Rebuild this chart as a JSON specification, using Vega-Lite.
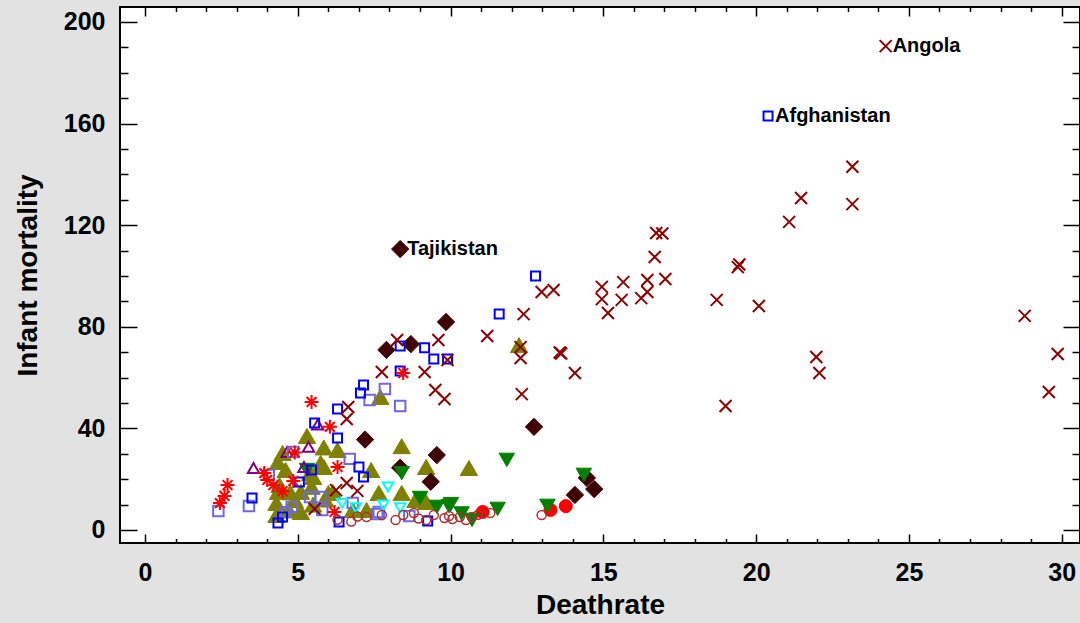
{
  "$schema": "https://vega.github.io/schema/vega-lite/v6.json",
  "width": 960,
  "height": 536,
  "autosize": {"type": "none"},
  "padding": {"left": 120, "top": 7, "right": 0, "bottom": 80},
  "background": "#e2e2e2",
  "config": {
    "view": {"fill": "white", "stroke": "black", "strokeWidth": 2},
    "font": "Liberation Sans"
  },
  "data": {
    "values": [
      {"region": "Latin America", "deathrate": 7.7, "infant": 52.4},
      {"region": "Latin America", "deathrate": 12.24, "infant": 72.8},
      {"region": "Latin America", "deathrate": 8.4, "infant": 33.0},
      {"region": "Latin America", "deathrate": 9.2, "infant": 24.8},
      {"region": "Latin America", "deathrate": 10.6, "infant": 24.4},
      {"region": "Latin America", "deathrate": 5.3, "infant": 37.0},
      {"region": "Latin America", "deathrate": 5.85, "infant": 32.5},
      {"region": "Latin America", "deathrate": 6.3, "infant": 31.5},
      {"region": "Latin America", "deathrate": 4.5, "infant": 30.3},
      {"region": "Latin America", "deathrate": 4.35, "infant": 26.8},
      {"region": "Latin America", "deathrate": 4.6, "infant": 23.6},
      {"region": "Latin America", "deathrate": 5.4, "infant": 22.4},
      {"region": "Latin America", "deathrate": 5.85, "infant": 24.8},
      {"region": "Latin America", "deathrate": 5.75, "infant": 26.4},
      {"region": "Latin America", "deathrate": 5.5, "infant": 20.9},
      {"region": "Latin America", "deathrate": 7.4, "infant": 23.6},
      {"region": "Latin America", "deathrate": 7.65, "infant": 14.6},
      {"region": "Latin America", "deathrate": 8.4, "infant": 14.6},
      {"region": "Latin America", "deathrate": 8.85, "infant": 11.8},
      {"region": "Latin America", "deathrate": 9.2, "infant": 11.0},
      {"region": "Latin America", "deathrate": 7.25, "infant": 7.9},
      {"region": "Latin America", "deathrate": 6.0, "infant": 14.6},
      {"region": "Latin America", "deathrate": 4.4, "infant": 17.7},
      {"region": "Latin America", "deathrate": 4.35, "infant": 15.0},
      {"region": "Latin America", "deathrate": 4.75, "infant": 14.8},
      {"region": "Latin America", "deathrate": 5.1, "infant": 15.0},
      {"region": "Latin America", "deathrate": 5.45, "infant": 17.0},
      {"region": "Latin America", "deathrate": 6.15, "infant": 15.0},
      {"region": "Latin America", "deathrate": 4.3, "infant": 10.6},
      {"region": "Latin America", "deathrate": 4.9, "infant": 11.8},
      {"region": "Latin America", "deathrate": 4.3, "infant": 5.9},
      {"region": "Latin America", "deathrate": 5.1, "infant": 7.1},
      {"region": "Latin America", "deathrate": 4.7, "infant": 7.9},
      {"region": "Latin America", "deathrate": 6.8, "infant": 7.9},
      {"region": "Latin America", "deathrate": 5.5, "infant": 10.0},
      {"region": "Latin America", "deathrate": 5.9, "infant": 12.0},
      {"region": "C.W. of Ind. States", "deathrate": 8.35, "infant": 110.6, "label": "Tajikistan"},
      {"region": "C.W. of Ind. States", "deathrate": 9.85, "infant": 81.9},
      {"region": "C.W. of Ind. States", "deathrate": 7.9, "infant": 70.9},
      {"region": "C.W. of Ind. States", "deathrate": 8.7, "infant": 73.2},
      {"region": "C.W. of Ind. States", "deathrate": 12.73, "infant": 40.6},
      {"region": "C.W. of Ind. States", "deathrate": 7.2, "infant": 35.6},
      {"region": "C.W. of Ind. States", "deathrate": 9.55, "infant": 29.5},
      {"region": "C.W. of Ind. States", "deathrate": 9.35, "infant": 19.0},
      {"region": "C.W. of Ind. States", "deathrate": 8.35, "infant": 24.5},
      {"region": "C.W. of Ind. States", "deathrate": 14.07, "infant": 13.8},
      {"region": "C.W. of Ind. States", "deathrate": 14.7, "infant": 16.1},
      {"region": "C.W. of Ind. States", "deathrate": 14.46, "infant": 20.5},
      {"region": "Baltics", "deathrate": 11.05, "infant": 7.1},
      {"region": "Baltics", "deathrate": 13.27, "infant": 7.9},
      {"region": "Baltics", "deathrate": 13.77, "infant": 9.4},
      {"region": "Eastern Europe", "deathrate": 11.84, "infant": 27.6},
      {"region": "Eastern Europe", "deathrate": 14.36, "infant": 21.7},
      {"region": "Eastern Europe", "deathrate": 13.17, "infant": 9.5},
      {"region": "Eastern Europe", "deathrate": 11.54, "infant": 8.3},
      {"region": "Eastern Europe", "deathrate": 10.01, "infant": 10.2},
      {"region": "Eastern Europe", "deathrate": 10.7, "infant": 4.0},
      {"region": "Eastern Europe", "deathrate": 8.4, "infant": 22.4},
      {"region": "Eastern Europe", "deathrate": 9.0, "infant": 12.6},
      {"region": "Eastern Europe", "deathrate": 9.55, "infant": 9.1},
      {"region": "Eastern Europe", "deathrate": 9.95, "infant": 9.4},
      {"region": "Eastern Europe", "deathrate": 10.36, "infant": 6.5},
      {"region": "Eastern Europe", "deathrate": 5.3, "infant": 23.6},
      {"region": "Northern Africa", "deathrate": 3.55, "infant": 24.4},
      {"region": "Northern Africa", "deathrate": 4.65, "infant": 30.7},
      {"region": "Northern Africa", "deathrate": 5.35, "infant": 32.7},
      {"region": "Northern Africa", "deathrate": 5.2, "infant": 24.8},
      {"region": "Northern Africa", "deathrate": 5.65, "infant": 41.5},
      {"region": "Oceania", "deathrate": 7.85, "infant": 55.5},
      {"region": "Oceania", "deathrate": 7.35, "infant": 51.2},
      {"region": "Oceania", "deathrate": 8.35, "infant": 48.8},
      {"region": "Oceania", "deathrate": 6.7, "infant": 28.0},
      {"region": "Oceania", "deathrate": 5.4, "infant": 13.0},
      {"region": "Oceania", "deathrate": 5.75, "infant": 13.0},
      {"region": "Oceania", "deathrate": 6.8, "infant": 10.6},
      {"region": "Oceania", "deathrate": 5.8, "infant": 7.9},
      {"region": "Oceania", "deathrate": 7.65, "infant": 7.1},
      {"region": "Oceania", "deathrate": 2.4, "infant": 7.5},
      {"region": "Oceania", "deathrate": 3.4, "infant": 9.4},
      {"region": "Oceania", "deathrate": 4.05, "infant": 21.7},
      {"region": "Oceania", "deathrate": 4.85, "infant": 30.7},
      {"region": "Oceania", "deathrate": 4.8, "infant": 9.1},
      {"region": "Oceania", "deathrate": 4.6, "infant": 7.0},
      {"region": "Oceania", "deathrate": 7.6, "infant": 6.3},
      {"region": "Oceania", "deathrate": 8.65, "infant": 5.5},
      {"region": "Asia", "deathrate": 20.39, "infant": 163.0, "label": "Afghanistan"},
      {"region": "Asia", "deathrate": 12.78, "infant": 100.0},
      {"region": "Asia", "deathrate": 11.59, "infant": 85.0},
      {"region": "Asia", "deathrate": 8.35, "infant": 72.4},
      {"region": "Asia", "deathrate": 9.15, "infant": 71.7},
      {"region": "Asia", "deathrate": 9.45, "infant": 67.3},
      {"region": "Asia", "deathrate": 9.9, "infant": 67.3},
      {"region": "Asia", "deathrate": 8.35, "infant": 62.6},
      {"region": "Asia", "deathrate": 7.15, "infant": 57.1},
      {"region": "Asia", "deathrate": 7.05, "infant": 53.9},
      {"region": "Asia", "deathrate": 6.3, "infant": 47.6},
      {"region": "Asia", "deathrate": 5.55, "infant": 42.1},
      {"region": "Asia", "deathrate": 6.3, "infant": 36.2},
      {"region": "Asia", "deathrate": 7.0, "infant": 24.8},
      {"region": "Asia", "deathrate": 7.15, "infant": 20.9},
      {"region": "Asia", "deathrate": 6.35, "infant": 3.1},
      {"region": "Asia", "deathrate": 9.25, "infant": 3.5},
      {"region": "Asia", "deathrate": 3.5, "infant": 12.6},
      {"region": "Asia", "deathrate": 4.35, "infant": 2.8},
      {"region": "Asia", "deathrate": 4.5, "infant": 5.1},
      {"region": "Asia", "deathrate": 5.05, "infant": 18.9},
      {"region": "Asia", "deathrate": 5.45, "infant": 23.6},
      {"region": "Near East", "deathrate": 5.45, "infant": 50.4},
      {"region": "Near East", "deathrate": 6.05, "infant": 40.6},
      {"region": "Near East", "deathrate": 8.45, "infant": 61.8},
      {"region": "Near East", "deathrate": 6.3, "infant": 24.8},
      {"region": "Near East", "deathrate": 6.2, "infant": 7.1},
      {"region": "Near East", "deathrate": 2.7, "infant": 17.7},
      {"region": "Near East", "deathrate": 2.6, "infant": 13.4},
      {"region": "Near East", "deathrate": 2.45, "infant": 10.6},
      {"region": "Near East", "deathrate": 3.9, "infant": 22.4},
      {"region": "Near East", "deathrate": 4.0, "infant": 19.7},
      {"region": "Near East", "deathrate": 4.2, "infant": 17.7},
      {"region": "Near East", "deathrate": 4.5, "infant": 15.3},
      {"region": "Near East", "deathrate": 4.85, "infant": 19.3},
      {"region": "Near East", "deathrate": 4.9, "infant": 30.5},
      {"region": "Sub-Saharan Africa", "deathrate": 24.24, "infant": 190.5, "label": "Angola"},
      {"region": "Sub-Saharan Africa", "deathrate": 23.15, "infant": 143.0},
      {"region": "Sub-Saharan Africa", "deathrate": 23.15, "infant": 128.3},
      {"region": "Sub-Saharan Africa", "deathrate": 21.47, "infant": 130.7},
      {"region": "Sub-Saharan Africa", "deathrate": 21.08, "infant": 121.3},
      {"region": "Sub-Saharan Africa", "deathrate": 16.73, "infant": 116.9},
      {"region": "Sub-Saharan Africa", "deathrate": 16.93, "infant": 116.7},
      {"region": "Sub-Saharan Africa", "deathrate": 16.68, "infant": 107.5},
      {"region": "Sub-Saharan Africa", "deathrate": 16.44, "infant": 98.4},
      {"region": "Sub-Saharan Africa", "deathrate": 17.03, "infant": 98.8},
      {"region": "Sub-Saharan Africa", "deathrate": 16.44, "infant": 93.7},
      {"region": "Sub-Saharan Africa", "deathrate": 16.24, "infant": 91.3},
      {"region": "Sub-Saharan Africa", "deathrate": 15.65, "infant": 97.6},
      {"region": "Sub-Saharan Africa", "deathrate": 15.6, "infant": 90.6},
      {"region": "Sub-Saharan Africa", "deathrate": 14.95, "infant": 95.7},
      {"region": "Sub-Saharan Africa", "deathrate": 14.95, "infant": 90.9},
      {"region": "Sub-Saharan Africa", "deathrate": 15.15, "infant": 85.4},
      {"region": "Sub-Saharan Africa", "deathrate": 13.37, "infant": 94.5},
      {"region": "Sub-Saharan Africa", "deathrate": 12.98, "infant": 93.7},
      {"region": "Sub-Saharan Africa", "deathrate": 12.39, "infant": 85.0},
      {"region": "Sub-Saharan Africa", "deathrate": 11.2, "infant": 76.4},
      {"region": "Sub-Saharan Africa", "deathrate": 12.29, "infant": 72.0},
      {"region": "Sub-Saharan Africa", "deathrate": 12.29, "infant": 67.7},
      {"region": "Sub-Saharan Africa", "deathrate": 13.57, "infant": 69.9},
      {"region": "Sub-Saharan Africa", "deathrate": 13.62, "infant": 69.5},
      {"region": "Sub-Saharan Africa", "deathrate": 14.07, "infant": 61.8},
      {"region": "Sub-Saharan Africa", "deathrate": 19.4, "infant": 103.5},
      {"region": "Sub-Saharan Africa", "deathrate": 19.45, "infant": 104.5},
      {"region": "Sub-Saharan Africa", "deathrate": 18.71, "infant": 90.6},
      {"region": "Sub-Saharan Africa", "deathrate": 20.09, "infant": 88.2},
      {"region": "Sub-Saharan Africa", "deathrate": 28.79, "infant": 84.3},
      {"region": "Sub-Saharan Africa", "deathrate": 29.87, "infant": 69.3},
      {"region": "Sub-Saharan Africa", "deathrate": 21.97, "infant": 68.1},
      {"region": "Sub-Saharan Africa", "deathrate": 22.07, "infant": 61.8},
      {"region": "Sub-Saharan Africa", "deathrate": 29.58, "infant": 54.3},
      {"region": "Sub-Saharan Africa", "deathrate": 19.0, "infant": 48.8},
      {"region": "Sub-Saharan Africa", "deathrate": 8.25, "infant": 74.8},
      {"region": "Sub-Saharan Africa", "deathrate": 9.6, "infant": 74.8},
      {"region": "Sub-Saharan Africa", "deathrate": 7.75, "infant": 62.2},
      {"region": "Sub-Saharan Africa", "deathrate": 9.15, "infant": 62.2},
      {"region": "Sub-Saharan Africa", "deathrate": 9.9, "infant": 66.9},
      {"region": "Sub-Saharan Africa", "deathrate": 9.5, "infant": 55.1},
      {"region": "Sub-Saharan Africa", "deathrate": 9.8, "infant": 51.6},
      {"region": "Sub-Saharan Africa", "deathrate": 6.65, "infant": 48.4},
      {"region": "Sub-Saharan Africa", "deathrate": 6.6, "infant": 43.7},
      {"region": "Sub-Saharan Africa", "deathrate": 6.6, "infant": 18.5},
      {"region": "Sub-Saharan Africa", "deathrate": 6.95, "infant": 15.4},
      {"region": "Sub-Saharan Africa", "deathrate": 5.55, "infant": 8.3},
      {"region": "Sub-Saharan Africa", "deathrate": 6.25, "infant": 15.7},
      {"region": "Sub-Saharan Africa", "deathrate": 12.33, "infant": 53.5},
      {"region": "Northern America", "deathrate": 7.95, "infant": 16.9},
      {"region": "Northern America", "deathrate": 7.8, "infant": 9.8},
      {"region": "Northern America", "deathrate": 8.35, "infant": 8.7},
      {"region": "Northern America", "deathrate": 6.9, "infant": 8.7},
      {"region": "Northern America", "deathrate": 6.45, "infant": 10.5},
      {"region": "Western Europe", "deathrate": 6.3, "infant": 4.0},
      {"region": "Western Europe", "deathrate": 6.75, "infant": 3.3},
      {"region": "Western Europe", "deathrate": 7.25, "infant": 5.1},
      {"region": "Western Europe", "deathrate": 7.75, "infant": 5.9},
      {"region": "Western Europe", "deathrate": 8.2, "infant": 3.9},
      {"region": "Western Europe", "deathrate": 8.45, "infant": 5.9},
      {"region": "Western Europe", "deathrate": 8.8, "infant": 6.7},
      {"region": "Western Europe", "deathrate": 9.2, "infant": 3.9},
      {"region": "Western Europe", "deathrate": 9.45, "infant": 5.9},
      {"region": "Western Europe", "deathrate": 9.8, "infant": 4.7},
      {"region": "Western Europe", "deathrate": 10.06, "infant": 4.3},
      {"region": "Western Europe", "deathrate": 10.3, "infant": 5.1},
      {"region": "Western Europe", "deathrate": 10.5, "infant": 3.9},
      {"region": "Western Europe", "deathrate": 10.7, "infant": 5.1},
      {"region": "Western Europe", "deathrate": 11.3, "infant": 6.7},
      {"region": "Western Europe", "deathrate": 12.98, "infant": 5.9},
      {"region": "Western Europe", "deathrate": 6.95, "infant": 5.3},
      {"region": "Western Europe", "deathrate": 8.95, "infant": 4.5},
      {"region": "Western Europe", "deathrate": 9.95, "infant": 5.5},
      {"region": "Western Europe", "deathrate": 10.9, "infant": 6.0}
    ]
  },
  "resolve": {"axis": {"x": "independent", "y": "independent"}},
  "layer": [
    {
      "mark": {"type": "point", "opacity": 1},
      "encoding": {
        "x": {
          "field": "deathrate", "type": "quantitative",
          "scale": {"domain": [-0.82, 30.6], "nice": false, "zero": false},
          "axis": {
            "orient": "bottom", "title": "Deathrate",
            "values": [0,1,2,3,4,5,6,7,8,9,10,11,12,13,14,15,16,17,18,19,20,21,22,23,24,25,26,27,28,29,30],
            "labelExpr": "datum.value % 5 === 0 ? datum.label : ''",
            "tickSize": {"condition": {"test": "datum.value % 5 === 0", "value": -9}, "value": -4.5},
            "tickColor": "black", "tickWidth": 1.5,
            "domain": false, "grid": false,
            "labelFont": "Liberation Sans", "labelFontWeight": "bold", "labelFontSize": 25, "labelColor": "black",
            "labelPadding": 26, "labelFlush": false, "labelOverlap": false,
            "titleFont": "Liberation Sans", "titleFontWeight": "bold", "titleFontSize": 28, "titleColor": "black", "titlePadding": 2
          }
        },
        "y": {
          "field": "infant", "type": "quantitative",
          "scale": {"domain": [-5.12, 205.9], "nice": false, "zero": false},
          "axis": {
            "orient": "left", "title": "Infant mortality",
            "values": [0,10,20,30,40,50,60,70,80,90,100,110,120,130,140,150,160,170,180,190,200],
            "labelExpr": "datum.value % 40 === 0 ? datum.label : ''",
            "tickSize": {"condition": {"test": "datum.value % 40 === 0", "value": -17}, "value": -8},
            "tickColor": "black", "tickWidth": 1.5,
            "domain": false, "grid": false,
            "labelFont": "Liberation Sans", "labelFontWeight": "bold", "labelFontSize": 25, "labelColor": "black",
            "labelPadding": 32, "labelFlush": false, "labelOverlap": false,
            "titleFont": "Liberation Sans", "titleFontWeight": "bold", "titleFontSize": 28, "titleColor": "black", "titlePadding": 21
          }
        },
        "shape": {
          "field": "region", "type": "nominal", "legend": null,
          "scale": {
            "type": "ordinal",
            "domain": ["Sub-Saharan Africa", "Asia", "Oceania", "Near East", "Latin America", "Northern Africa", "C.W. of Ind. States", "Eastern Europe", "Northern America", "Western Europe", "Baltics"],
            "range": ["M-1,-1L1,1M-1,1L1,-1", "square", "square", "M-1,0L1,0M0,-1L0,1M-0.7,-0.7L0.7,0.7M-0.7,0.7L0.7,-0.7", "triangle-up", "triangle-up", "diamond", "triangle-down", "triangle-down", "circle", "circle"]
          }
        },
        "stroke": {
          "field": "region", "type": "nominal", "legend": null,
          "scale": {
            "type": "ordinal",
            "domain": ["Sub-Saharan Africa", "Asia", "Oceania", "Near East", "Latin America", "Northern Africa", "C.W. of Ind. States", "Eastern Europe", "Northern America", "Western Europe", "Baltics"],
            "range": ["#8b0000", "#0000ff", "#7068e0", "#ff0000", "#808000", "#800080", "#400000", "#008000", "#00ffff", "#a83232", "#ff0000"]
          }
        },
        "fill": {
          "field": "region", "type": "nominal", "legend": null,
          "scale": {
            "type": "ordinal",
            "domain": ["Sub-Saharan Africa", "Asia", "Oceania", "Near East", "Latin America", "Northern Africa", "C.W. of Ind. States", "Eastern Europe", "Northern America", "Western Europe", "Baltics"],
            "range": ["transparent", "transparent", "transparent", "transparent", "#808000", "transparent", "#400000", "#008000", "transparent", "transparent", "#ff0000"]
          }
        },
        "size": {
          "field": "region", "type": "nominal", "legend": null,
          "scale": {
            "type": "ordinal",
            "domain": ["Sub-Saharan Africa", "Asia", "Oceania", "Near East", "Latin America", "Northern Africa", "C.W. of Ind. States", "Eastern Europe", "Northern America", "Western Europe", "Baltics"],
            "range": [144, 81, 110, 196, 300, 130, 300, 240, 110, 81, 170]
          }
        },
        "strokeWidth": {
          "field": "region", "type": "nominal", "legend": null,
          "scale": {
            "type": "ordinal",
            "domain": ["Sub-Saharan Africa", "Asia", "Oceania", "Near East", "Latin America", "Northern Africa", "C.W. of Ind. States", "Eastern Europe", "Northern America", "Western Europe", "Baltics"],
            "range": [2, 2, 2, 2, 1, 2, 1, 1, 2, 1.5, 1]
          }
        }
      }
    },
    {
      "transform": [{"filter": "isValid(datum.label)"}],
      "mark": {"type": "text", "align": "left", "baseline": "middle", "dx": 7, "font": "Liberation Sans", "fontWeight": "bold", "fontSize": 20, "color": "black"},
      "encoding": {
        "x": {
          "field": "deathrate", "type": "quantitative",
          "axis": {
            "orient": "top", "title": null, "labels": false,
            "values": [0,1,2,3,4,5,6,7,8,9,10,11,12,13,14,15,16,17,18,19,20,21,22,23,24,25,26,27,28,29,30],
            "tickSize": {"condition": {"test": "datum.value % 5 === 0", "value": -9}, "value": -4.5},
            "tickColor": "black", "tickWidth": 1.5, "domain": false, "grid": false
          }
        },
        "y": {
          "field": "infant", "type": "quantitative",
          "axis": {
            "orient": "right", "title": null, "labels": false,
            "values": [0,10,20,30,40,50,60,70,80,90,100,110,120,130,140,150,160,170,180,190,200],
            "tickSize": {"condition": {"test": "datum.value % 40 === 0", "value": -17}, "value": -8},
            "tickColor": "black", "tickWidth": 1.5, "domain": false, "grid": false
          }
        },
        "text": {"field": "label", "type": "nominal"}
      }
    }
  ]
}
